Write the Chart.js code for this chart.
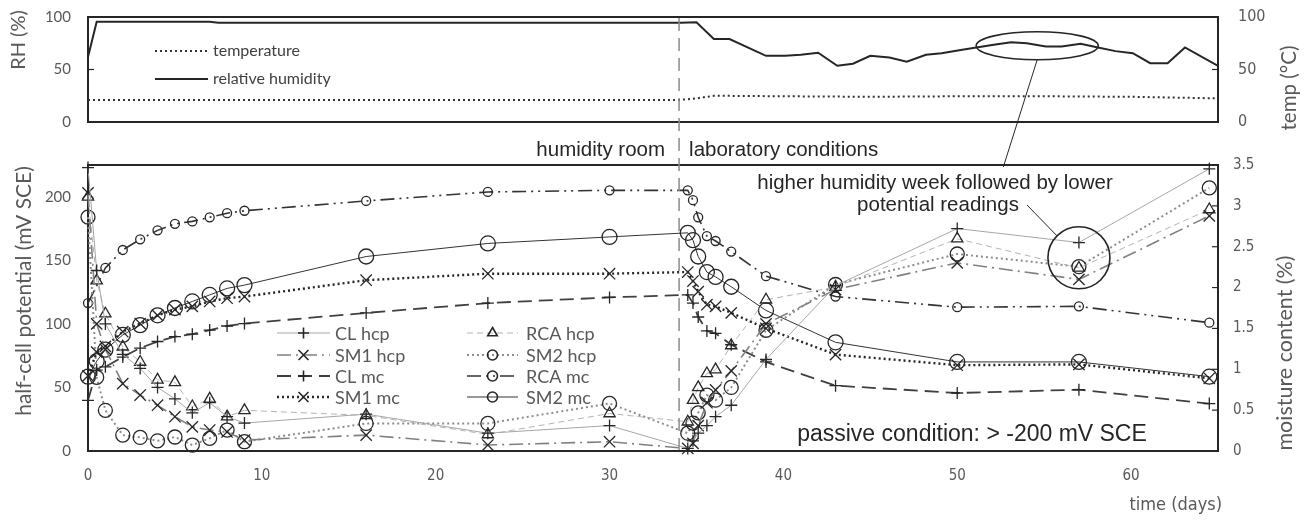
<!DOCTYPE html>
<html>
<head>
<meta charset="utf-8">
<script src="https://cdn.jsdelivr.net/npm/chart.js@4.4.1/dist/chart.umd.min.js"></script>
<style>
  html, body { margin: 0; padding: 0; background: #fff; }
  #wrap { position: relative; width: 1309px; height: 520px; overflow: hidden; }
  #wrap canvas { position: absolute; left: 0; }
</style>
</head>
<body>
<div id="wrap">
  <canvas id="top-chart" width="1309" height="140" style="top:0"></canvas>
  <canvas id="bottom-chart" width="1309" height="380" style="top:140px"></canvas>
  <canvas id="overlay" width="1309" height="520" style="top:0"></canvas>
</div>
<script>
// ─── DATA ────────────────────────────────────────────────────────────────
// measurement days: humidity room up to day 30, laboratory from 34.5 on
const DAYS = [0, 0.5, 1, 2, 3, 4, 5, 6, 7, 8, 9, 16, 23, 30,
              34.5, 34.8, 35.1, 35.6, 36.1, 37, 39, 43, 50, 57, 64.5];

// half-cell potential (mV SCE, plotted as magnitude)
const CL_HCP  = [223, 142, 100, 76, 65, 50, 41, 30, 38, 27, 22, 29, 14, 20,
                 2, 8, 14, 20, 27, 36, 72, 130, 175, 164, 222];
const SM1_HCP = [203, 100, 80, 53, 44, 36, 27, 19, 16.5, 15, 8.6, 12.5, 4.7, 7.3,
                 2, 6, 20, 38, 48, 63, 100, 127, 148, 135, 185];
const RCA_HCP = [200, 134, 108, 82, 70, 56, 54, 35, 41, 27, 32, 28, 13, 29.5,
                 23, 40, 50, 61, 64, 83, 119, 129, 167, 144, 190];
const SM2_HCP = [184, 58, 32, 12.5, 10.7, 8, 11, 4.7, 10, 16.5, 7.3, 21.7, 21.7, 37.4,
                 14, 22, 30, 44, 40, 50, 95, 131, 155, 145, 207];

// moisture content (%)
const CL_MC  = [0.62, 0.99, 1.03, 1.15, 1.26, 1.34, 1.40, 1.43, 1.48, 1.53, 1.56, 1.69, 1.81, 1.88,
                1.91, 1.81, 1.64, 1.47, 1.44, 1.30, 1.09, 0.80, 0.71, 0.75, 0.58];
const SM1_MC = [0.92, 1.21, 1.28, 1.46, 1.56, 1.66, 1.73, 1.77, 1.83, 1.87, 1.89, 2.09, 2.17, 2.17,
                2.19, 2.08, 1.95, 1.79, 1.77, 1.69, 1.50, 1.18, 1.05, 1.06, 0.89];
const RCA_MC = [1.81, null, 2.24, 2.46, 2.59, 2.70, 2.78, 2.81, 2.86, 2.91, 2.94, 3.06, 3.17, 3.19,
                3.19, 3.07, 2.86, 2.63, 2.57, 2.44, 2.14, 1.89, 1.76, 1.77, 1.57];
const SM2_MC = [0.91, 1.10, 1.24, 1.42, 1.54, 1.66, 1.75, 1.83, 1.91, 1.99, 2.03, 2.38, 2.54, 2.62,
                2.67, 2.58, 2.38, 2.19, 2.13, 2.01, 1.72, 1.33, 1.09, 1.09, 0.91];

// climate record (top panel)
const RH_DAYS = [0, 0.5, 7, 7.5, 34.1, 35, 36, 36.9, 39, 40.1, 41, 42, 43.1, 44, 45, 46.1, 47.1,
                 48.2, 49.1, 50.2, 51.1, 52.1, 53.1, 54, 55.1, 56, 57.1, 58.1, 59.1, 60.1, 61.1,
                 62.1, 63.1, 65];
const RH = [62, 95.5, 95.5, 94.5, 94.5, 95, 79, 79, 63, 63, 64, 66, 53.5, 55.5, 63, 61.5, 57.5,
            64, 65.5, 68.5, 71, 73.5, 76, 75, 72, 72, 74.5, 71, 67.5, 65.5, 56, 56, 71, 53.5];
const TEMP_DAYS = [0, 34, 35, 36, 40, 45, 50, 55, 60, 65];
const TEMP = [21, 21, 22.5, 25, 24.5, 24, 24.5, 24.5, 24, 22.5];

const X_TICKS = [0, 10, 20, 30, 40, 50, 60];
const HCP_TICKS = [0, 50, 100, 150, 200];
const MC_TICKS = [0, 0.5, 1, 1.5, 2, 2.5, 3, 3.5];
const CLIMATE_TICKS = [0, 50, 100];
const ROOM_CHANGE_DAY = 34;

// ─── STYLE ───────────────────────────────────────────────────────────────
const CAL = 'Lato, "Open Sans", sans-serif';
const NARROW = '"Liberation Sans Narrow", "DejaVu Sans Condensed", "Liberation Sans", sans-serif';
const ARIAL = '"Liberation Sans", Arial, sans-serif';
const AXIS_GREY = '#595959';
const MARK = '#262626';
Chart.defaults.font.family = CAL;

const pts = (xs, ys) => xs.map((x, i) => ({ x, y: ys[i] }));

function series(label, values, axis, color, width, dash, style, radius) {
  return {
    label, yAxisID: axis,
    data: pts(DAYS, values),
    borderColor: color, borderWidth: width, borderDash: dash,
    borderCapStyle: 'butt',
    pointStyle: style, pointRadius: radius,
    pointBorderColor: MARK, pointBorderWidth: 1.3,
    pointBackgroundColor: 'rgba(0,0,0,0)',
    tension: 0, spanGaps: true, clip: false,
  };
}

const bottomSets = [
  series('CL hcp',  CL_HCP,  'y',  '#a6a6a6', 1,   [],               'cross',    6),
  series('SM1 hcp', SM1_HCP, 'y',  '#808080', 1.6, [14, 5, 2, 5],    'crossRot', 8),
  series('CL mc',   CL_MC,   'y1', '#404040', 1.8, [14, 7],          'cross',    6),
  series('SM1 mc',  SM1_MC,  'y1', '#262626', 2.4, [2, 3],           'crossRot', 8),
  series('RCA hcp', RCA_HCP, 'y',  '#b3b3b3', 1,   [6, 4],           'triangle', 6.5),
  series('SM2 hcp', SM2_HCP, 'y',  '#8c8c8c', 2,   [2, 3],           'circle',   7),
  series('RCA mc',  RCA_MC,  'y1', '#333333', 1.6, [14, 5, 2, 5, 2, 5], 'circle', 4.5),
  series('SM2 mc',  SM2_MC,  'y1', '#333333', 1,   [],               'circle',   7.5),
];

const onlyTicks = list => s => { s.ticks = list.map(v => ({ value: v })); };

// plot frame + inner tick marks (Excel style)
const framePlugin = {
  id: 'frame',
  beforeDatasetsDraw(chart, args, opts) {
    const { ctx, chartArea: a } = chart;
    ctx.save();
    ctx.strokeStyle = MARK;
    ctx.lineWidth = 2;
    ctx.strokeRect(a.left, a.top, a.right - a.left, a.bottom - a.top);
    ctx.lineWidth = 1.2;
    (opts.inner || []).forEach(id => {
      const s = chart.scales[id];
      const x0 = s.position === 'left' ? a.left : a.right;
      const dir = s.position === 'left' ? 1 : -1;
      s.ticks.forEach(t => {
        const y = s.getPixelForValue(t.value);
        if (y < a.top + 2 || y > a.bottom - 2) return;
        ctx.beginPath();
        ctx.moveTo(x0, y);
        ctx.lineTo(x0 + dir * 6, y);
        ctx.stroke();
      });
    });
    ctx.restore();
  },
};

function rotText(ctx, text, x, y, font, color) {
  ctx.save();
  ctx.translate(x, y);
  ctx.rotate(-Math.PI / 2);
  ctx.font = font;
  ctx.fillStyle = color;
  ctx.textAlign = 'center';
  ctx.textBaseline = 'middle';
  ctx.fillText(text, 0, 0);
  ctx.restore();
}

function sampleLine(ctx, ds, x1, x2, y, markR) {
  ctx.save();
  ctx.strokeStyle = ds.borderColor;
  ctx.lineWidth = ds.borderWidth;
  ctx.setLineDash(ds.borderDash);
  ctx.beginPath();
  ctx.moveTo(x1, y);
  ctx.lineTo(x2, y);
  ctx.stroke();
  ctx.setLineDash([]);
  ctx.strokeStyle = MARK;
  ctx.fillStyle = 'rgba(0,0,0,0)';
  ctx.lineWidth = 1.6;
  Chart.helpers.drawPoint(ctx, { pointStyle: ds.pointStyle, radius: markR, rotation: 0, borderWidth: 1.6 },
    (x1 + x2) / 2, y);
  ctx.restore();
}

// annotations, titles and legend of the potential / moisture panel
const bottomNotes = {
  id: 'bottomNotes',
  afterDraw(chart) {
    const { ctx, chartArea: a, scales } = chart;
    const xDiv = scales.x.getPixelForValue(ROOM_CHANGE_DAY);
    ctx.save();
    ctx.fillStyle = '#262626';
    ctx.font = '20.5px ' + ARIAL;
    ctx.textBaseline = 'middle';
    ctx.textAlign = 'right';
    ctx.fillText('humidity room', xDiv - 14, a.top - 15);
    ctx.textAlign = 'left';
    ctx.fillText('laboratory conditions', xDiv + 10, a.top - 15);

    ctx.textAlign = 'center';
    ctx.fillText('higher humidity week followed by lower', 935, a.top + 18);
    ctx.fillText('potential readings', 938, a.top + 40);
    ctx.font = '23px ' + ARIAL;
    ctx.fillText('passive condition: > -200 mV SCE', 972, a.bottom - 16);

    // highlight circle around the day-57 readings
    const cx = scales.x.getPixelForValue(57);
    const cy = scales.y.getPixelForValue(152);
    ctx.strokeStyle = MARK;
    ctx.lineWidth = 1.6;
    ctx.beginPath();
    ctx.arc(cx, cy, 31, 0, Math.PI * 2);
    ctx.stroke();
    ctx.lineWidth = 1;
    ctx.beginPath();
    ctx.moveTo(1027, a.top + 40);
    ctx.lineTo(cx - 22, cy - 22);
    ctx.stroke();

    // axis titles
    rotText(ctx, 'half-cell potential (mV SCE)', 24, 151, '21px ' + CAL, AXIS_GREY);
    rotText(ctx, 'moisture content (%)', 1285, 213, '21.5px ' + CAL, AXIS_GREY);
    ctx.font = '18px ' + NARROW;
    ctx.fillStyle = AXIS_GREY;
    ctx.textAlign = 'right';
    ctx.fillText('time (days)', a.right + 4, 365);

    // legend, two columns of four
    const rows = [193, 215, 236, 257];
    const cols = [[277, 330, 335], [467, 518, 526]];
    ctx.font = '18px ' + CAL;
    ctx.textAlign = 'left';
    chart.data.datasets.forEach((ds, i) => {
      const [x1, x2, tx] = cols[Math.floor(i / 4)];
      const y = rows[i % 4];
      const r = ds.pointStyle === 'circle' ? 5 : ds.pointStyle === 'crossRot' ? 7 : 5.5;
      sampleLine(ctx, ds, x1, x2, y, r);
      ctx.fillStyle = AXIS_GREY;
      ctx.fillText(ds.label, tx, y + 1);
    });
    ctx.restore();
  },
};

const topNotes = {
  id: 'topNotes',
  afterDraw(chart) {
    const { ctx } = chart;
    ctx.save();
    const ds = chart.data.datasets;
    [[ds[1], 'temperature', 51], [ds[0], 'relative humidity', 79]].forEach(([d, txt, y]) => {
      ctx.strokeStyle = d.borderColor;
      ctx.lineWidth = d.borderWidth;
      ctx.setLineDash(d.borderDash);
      ctx.beginPath();
      ctx.moveTo(155, y);
      ctx.lineTo(208, y);
      ctx.stroke();
      ctx.setLineDash([]);
      ctx.fillStyle = '#404040';
      ctx.font = '16px ' + CAL;
      ctx.textBaseline = 'middle';
      ctx.fillText(txt, 213, y);
    });
    rotText(ctx, 'RH (%)', 19, 40, '20px ' + CAL, AXIS_GREY);
    rotText(ctx, 'temp (°C)', 1289, 88, '20.5px ' + CAL, AXIS_GREY);
    ctx.restore();
  },
};

const tickFont = (family, size) => ({ color: AXIS_GREY, font: { family, size } });
// labels are pushed off the frame with an invisible tick length so that
// the tick padding does not enlarge the vertical layout padding
const hiddenTicks = len => ({ display: false, drawTicks: true, tickLength: len });

// ─── TOP PANEL: relative humidity & temperature ─────────────────────────
const topChart = new Chart(document.getElementById('top-chart'), {
  type: 'line',
  data: {
    datasets: [
      { label: 'relative humidity', data: pts(RH_DAYS, RH), yAxisID: 'y',
        borderColor: '#262626', borderWidth: 2, borderDash: [], pointRadius: 0, tension: 0 },
      { label: 'temperature', data: pts(TEMP_DAYS, TEMP), yAxisID: 'y1',
        borderColor: '#333333', borderWidth: 2, borderDash: [2, 3], pointRadius: 0, tension: 0 },
    ],
  },
  options: {
    responsive: false, animation: false, events: [],
    layout: { padding: { top: 17, bottom: 18, left: 0, right: 0 } },
    plugins: { legend: { display: false }, tooltip: { enabled: false }, frame: { inner: ['y', 'y1'] } },
    scales: {
      x: { type: 'linear', min: 0, max: 65, display: false },
      y: { position: 'left', min: 0, max: 100, afterBuildTicks: onlyTicks(CLIMATE_TICKS),
           afterFit: s => { s.width = 88; },
           ticks: { padding: 0, ...tickFont(CAL, 15) },
           grid: hiddenTicks(17), border: { display: false } },
      y1: { position: 'right', min: 0, max: 100, afterBuildTicks: onlyTicks(CLIMATE_TICKS),
            afterFit: s => { s.width = 91; },
            ticks: { padding: 0, ...tickFont(NARROW, 16) },
            grid: hiddenTicks(20), border: { display: false } },
    },
  },
  plugins: [framePlugin, topNotes],
});

// ─── BOTTOM PANEL: half-cell potential & moisture content ───────────────
const bottomChart = new Chart(document.getElementById('bottom-chart'), {
  type: 'line',
  data: { datasets: bottomSets },
  options: {
    responsive: false, animation: false, events: [],
    layout: { padding: { top: 25, bottom: 0, left: 0, right: 0 } },
    plugins: { legend: { display: false }, tooltip: { enabled: false }, frame: { inner: ['y1'] } },
    scales: {
      x: { type: 'linear', min: 0, max: 65, afterBuildTicks: onlyTicks(X_TICKS),
           afterFit: s => { s.height = 69; },
           ticks: { padding: 16, ...tickFont(NARROW, 15) },
           grid: { display: false, drawTicks: false }, border: { display: false } },
      y: { position: 'left', min: 0, max: 225, afterBuildTicks: onlyTicks(HCP_TICKS),
           afterFit: s => { s.width = 88; },
           ticks: { padding: 0, ...tickFont(CAL, 15) },
           grid: hiddenTicks(17), border: { display: false } },
      y1: { position: 'right', min: 0, max: 3.5, afterBuildTicks: onlyTicks(MC_TICKS),
            afterFit: s => { s.width = 91; },
            ticks: { padding: 0, callback: v => String(v), ...tickFont(NARROW, 15) },
            grid: hiddenTicks(15), border: { display: false } },
    },
  },
  plugins: [framePlugin, bottomNotes],
});

// ─── OVERLAY: marks that cross both panels ──────────────────────────────
(function drawOverlay() {
  const ctx = document.getElementById('overlay').getContext('2d');
  const off = 140;
  const xDiv = bottomChart.scales.x.getPixelForValue(ROOM_CHANGE_DAY);
  ctx.strokeStyle = '#8c8c8c';
  ctx.lineWidth = 1.5;
  ctx.setLineDash([13, 7]);
  ctx.beginPath();
  ctx.moveTo(xDiv, topChart.chartArea.top + 1);
  ctx.lineTo(xDiv, off + bottomChart.chartArea.bottom - 1);
  ctx.stroke();
  ctx.setLineDash([]);

  // ellipse marking the humid week, with its pointer line
  const ex = topChart.scales.x.getPixelForValue(54.6);
  const ey = topChart.scales.y.getPixelForValue(72.6);
  ctx.strokeStyle = MARK;
  ctx.lineWidth = 1.6;
  ctx.beginPath();
  ctx.ellipse(ex, ey, 61, 14, 0, 0, Math.PI * 2);
  ctx.stroke();
  ctx.lineWidth = 1;
  ctx.beginPath();
  ctx.moveTo(ex, ey + 14);
  ctx.lineTo(bottomChart.scales.x.getPixelForValue(52.65), off + bottomChart.scales.y.getPixelForValue(223.4));
  ctx.stroke();
})();
</script>
</body>
</html>
